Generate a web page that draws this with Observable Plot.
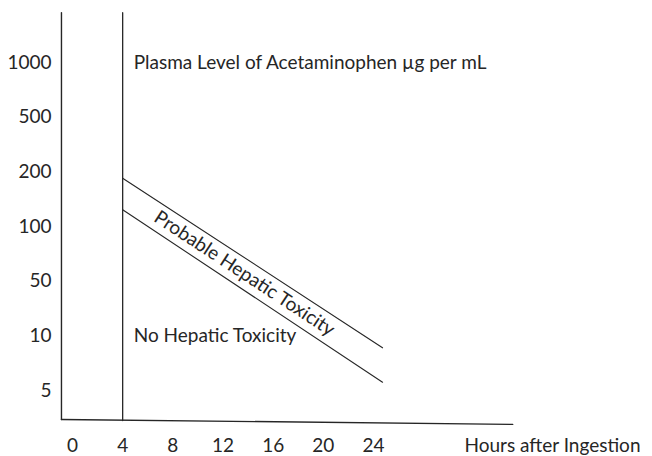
<!DOCTYPE html>
<html>
<head>
<meta charset="utf-8">
<script src="https://cdn.jsdelivr.net/npm/d3@7"></script>
<script src="https://cdn.jsdelivr.net/npm/@observablehq/plot@0.6"></script>
<style>
  html, body { margin: 0; padding: 0; background: #fff; }
  #chart svg { display: block; }
</style>
</head>
<body>
<div id="chart"></div>
<script>
// Tick labels
const yLabels = ["5", "10", "50", "100", "200", "500", "1000"]; // equally spaced rows (index 0..6)
const xTicks = [0, 4, 8, 12, 16, 20, 24];

// Lines (hours, row index)
const yAxisLine = [{h: -0.88, i: 6.91}, {h: -0.88, i: -0.53}];
const xAxisLine = [{h: -0.88, i: -0.53}, {h: 35.1, i: -0.62}];
const fourHourLine = [{h: 4, i: 6.91}, {h: 4, i: -0.55}];
const upperLine = [{h: 4, i: 3.884}, {h: 24.72, i: 0.781}];
const lowerLine = [{h: 4, i: 3.306}, {h: 24.72, i: 0.152}];

// Annotations
const annotations = [
  {h: 4, i: 6, text: "Plasma Level of Acetaminophen µg per mL"},
  {h: 4, i: 1, text: "No Hepatic Toxicity"}
];
const bandLabel = [{h: 13.71, i: 2.14, text: "Probable Hepatic Toxicity"}];
const xTitle = "Hours after Ingestion";

const ink = "#262626";
const font = "Lato, 'Open Sans', sans-serif";
const fs = 19;

const chart = Plot.plot({
  width: 652,
  height: 456,
  marginLeft: 61,
  marginRight: 12,
  marginTop: 0,
  marginBottom: 18,
  style: {fontFamily: font, fontSize: fs + "px", color: ink, background: "#fff"},
  x: {domain: [0, 24], range: [72, 373]},
  y: {domain: [0, 6], range: [390, 62]},
  marks: [
    Plot.axisY(d3.range(yLabels.length), {
      tickFormat: (d) => yLabels[d], tickSize: 0, tickPadding: 10,
      fontSize: fs, fill: ink, label: null
    }),
    Plot.axisX(xTicks, {
      tickSize: 0, tickPadding: 0, fontSize: fs, fill: ink, label: null
    }),
    Plot.text([xTitle], {
      frameAnchor: "bottom-right", textAnchor: "end", lineAnchor: "top",
      fontSize: fs, fill: ink
    }),
    Plot.line(yAxisLine, {x: "h", y: "i", stroke: ink, strokeWidth: 1.4}),
    Plot.line(xAxisLine, {x: "h", y: "i", stroke: ink, strokeWidth: 1.4}),
    Plot.line(fourHourLine, {x: "h", y: "i", stroke: ink, strokeWidth: 1.3}),
    Plot.line(upperLine, {x: "h", y: "i", stroke: ink, strokeWidth: 1.1}),
    Plot.line(lowerLine, {x: "h", y: "i", stroke: ink, strokeWidth: 1.1}),
    Plot.text(annotations, {
      x: "h", y: "i", text: "text", dx: 11, textAnchor: "start",
      fontSize: fs, fill: ink
    }),
    Plot.text(bandLabel, {
      x: "h", y: "i", text: "text", rotate: 33.3,
      fontSize: fs, fill: ink
    })
  ]
});
document.getElementById("chart").appendChild(chart);
</script>
</body>
</html>
